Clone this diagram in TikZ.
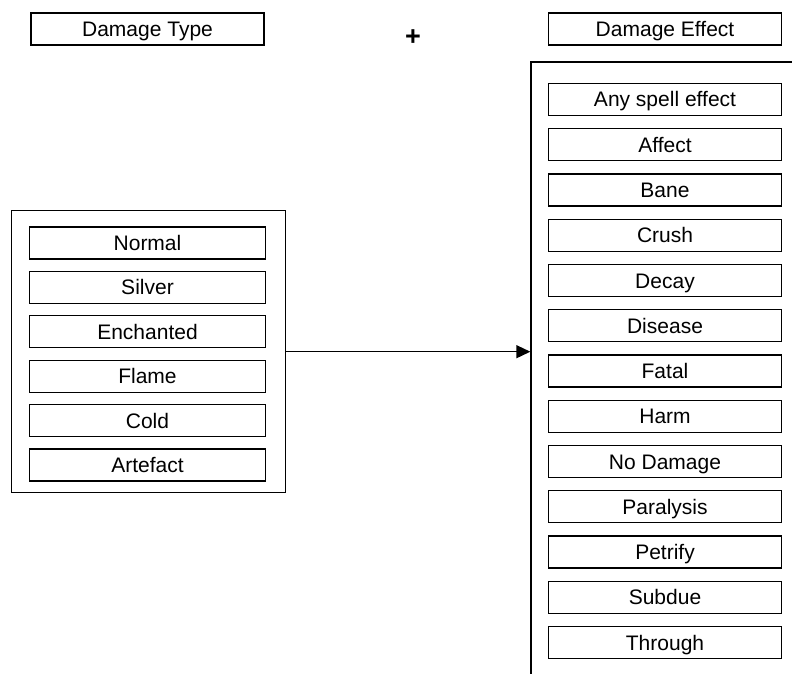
\documentclass[tikz,border=0pt]{standalone}
\usepackage{fontspec}
\setmainfont{Liberation Sans}
\usetikzlibrary{arrows.meta}
\tikzstyle{headbox} = [rectangle, minimum width=233pt, minimum height=32pt, inner sep=0pt, text height=15pt, text depth=0pt, text centered, draw=black, line width=1.3pt, font=\fontsize{21}{24}\selectfont]
\tikzstyle{typeitem} = [headbox, minimum width=236pt, node distance=44.4pt]
\tikzstyle{effectitem} = [headbox, node distance=45.25pt]
\tikzstyle{frame} = [rectangle, inner sep=0pt, draw=black, line width=1.3pt]
\tikzstyle{arrow} = [line width=1.3pt, -{Triangle[length=14pt, width=13pt]}]

\begin{document}
\begin{tikzpicture}[x=1pt, y=1pt]
		\useasboundingbox (0,0) rectangle (792,-674);
		\clip (0,0) rectangle (792,-674);
		% Headings
		\node (typehead) [headbox] at (147.5,-29) {Damage Type};
		\node (plus) [font=\fontsize{27}{28}\selectfont\bfseries] at (413,-38) {+};
		\node (effecthead) [headbox] at (665,-29) {Damage Effect};
	
		% Damage types
		\node (typeframe) [frame, minimum width=274pt, minimum height=282pt] at (148.7,-351.7) {};
		\node (normal) [typeitem] at (147.5,-243) {Normal};
		\node (silver) [typeitem, below of=normal] {Silver};
		\node (enchanted) [typeitem, below of=silver] {Enchanted};
		\node (flame) [typeitem, below of=enchanted] {Flame};
		\node (cold) [typeitem, below of=flame] {Cold};
		\node (artefact) [typeitem, below of=cold] {Artefact};
	
		% Damage effects
		\node (effectframe) [frame, minimum width=279pt, minimum height=640pt] at (670.5,-382) {};
		\node (anyspell) [effectitem] at (665,-99.5) {Any spell effect};
		\node (affect) [effectitem, below of=anyspell] {Affect};
		\node (bane) [effectitem, below of=affect] {Bane};
		\node (crush) [effectitem, below of=bane] {Crush};
		\node (decay) [effectitem, below of=crush] {Decay};
		\node (disease) [effectitem, below of=decay] {Disease};
		\node (fatal) [effectitem, below of=disease] {Fatal};
		\node (harm) [effectitem, below of=fatal] {Harm};
		\node (nodamage) [effectitem, below of=harm] {No Damage};
		\node (paralysis) [effectitem, below of=nodamage] {Paralysis};
		\node (petrify) [effectitem, below of=paralysis] {Petrify};
		\node (subdue) [effectitem, below of=petrify] {Subdue};
		\node (through) [effectitem, below of=subdue] {Through};
	
		% Type to effect
		\draw [arrow] (typeframe.east) -- (typeframe.east -| effectframe.west);
	\end{tikzpicture}
\end{document}
